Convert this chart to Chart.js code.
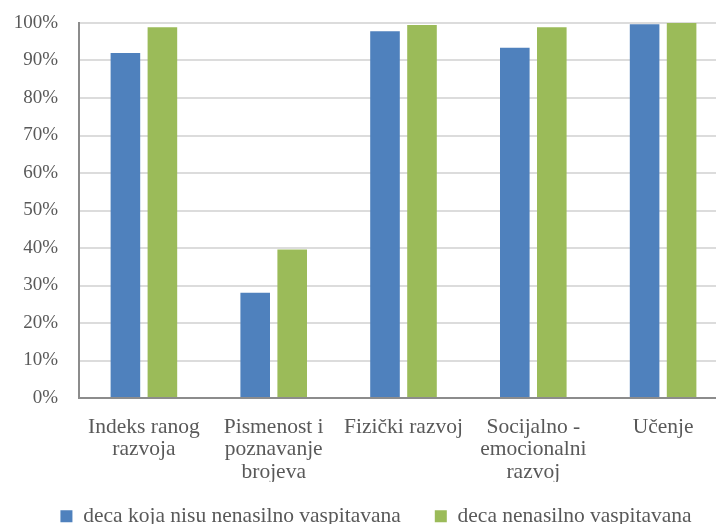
<!DOCTYPE html>
<html>
<head>
<meta charset="utf-8">
<script src="https://cdn.jsdelivr.net/npm/chart.js@4/dist/chart.umd.min.js"></script>
<style>
  html, body { margin: 0; padding: 0; background: #ffffff; overflow: hidden; width: 716px; height: 524px; }
  #wrap { position: absolute; left: 0; top: 0; width: 740px; height: 524px; }
</style>
</head>
<body>
<div id="wrap"><canvas id="c" width="740" height="524"></canvas></div>
<script>
const categories = [
  ["Indeks ranog", "razvoja"],
  ["Pismenost i", "poznavanje", "brojeva"],
  "Fizički razvoj",
  ["Socijalno -", "emocionalni", "razvoj"],
  "Učenje"
];
const seriesNames = ["deca koja nisu nenasilno vaspitavana", "deca nenasilno vaspitavana"];
const notNonViolent = [92.0, 28.1, 97.8, 93.4, 99.7];
const nonViolent = [98.9, 39.6, 99.5, 98.9, 100.0];
const yMin = 0, yMax = 100, yStep = 10;

const FONT = '"Liberation Serif", "Times New Roman", serif';
const TXT = '#595959';

const legendTweak = {
  id: 'legendTweak',
  beforeLayout(chart) {
    const lg = chart.legend;
    if (lg && !lg._tweaked) {
      const orig = lg.fit.bind(lg);
      lg.fit = function () { orig(); this.height = 42; };
      lg._tweaked = true;
    }
  },
  afterLayout(chart) {
    const lg = chart.legend;
    if (lg) {
      lg.left += 6; lg.right += 6;
      lg.top = 471.5; lg.bottom = 524;
    }
  }
};

new Chart(document.getElementById('c'), {
  type: 'bar',
  data: {
    labels: categories,
    datasets: [
      { label: seriesNames[0], data: notNonViolent, backgroundColor: '#4F81BD', borderWidth: 0 },
      { label: seriesNames[1], data: nonViolent, backgroundColor: '#9BBB59', borderWidth: 0 }
    ]
  },
  options: {
    responsive: false,
    animation: false,
    devicePixelRatio: 1,
    layout: { padding: { left: 12, right: 12, top: 23, bottom: 0 } },
    datasets: { bar: { categoryPercentage: 0.57, barPercentage: 0.8 } },
    scales: {
      x: {
        grid: { display: false },
        border: { display: true, color: '#8c8c8c', width: 2 },
        ticks: {
          color: TXT, font: { family: FONT, size: 21.5, lineHeight: 1.04 },
          padding: 10, maxRotation: 0, autoSkip: false
        },
        afterFit(scale) { scale.height = 84; }
      },
      y: {
        min: yMin, max: yMax,
        grid: { color: '#dcdcdc', lineWidth: 2, drawTicks: true, tickLength: 19, tickColor: 'rgba(0,0,0,0)' },
        border: { display: true, color: '#8c8c8c', width: 2 },
        ticks: {
          stepSize: yStep, color: TXT, padding: 2,
          font: { family: FONT, size: 19 },
          callback: v => v + '%'
        },
        afterFit(scale) { scale.width = 67; }
      }
    },
    plugins: {
      tooltip: { enabled: false },
      legend: {
        position: 'bottom',
        labels: {
          boxWidth: 12, boxHeight: 12, padding: 34, color: TXT,
          font: { family: FONT, size: 21.5 }
        }
      }
    }
  },
  plugins: [legendTweak]
});
</script>
</body>
</html>
